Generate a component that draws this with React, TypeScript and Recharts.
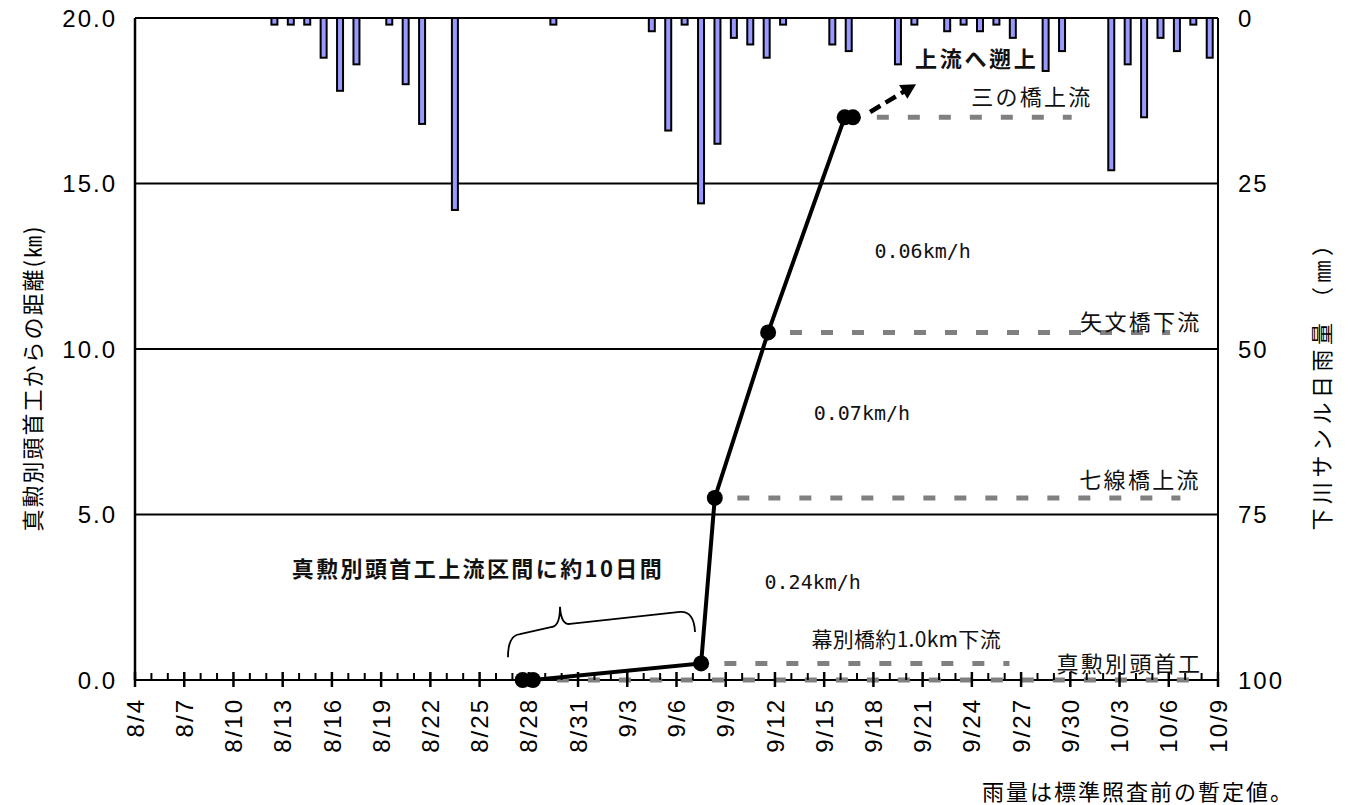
import { ComposedChart, Bar, Line, XAxis, YAxis, CartesianGrid, ReferenceDot, ReferenceArea } from 'recharts'

// x tick labels (every 3 days)
const dateLabels = [
  '8/4', '8/7', '8/10', '8/13', '8/16', '8/19', '8/22', '8/25', '8/28', '8/31',
  '9/3', '9/6', '9/9', '9/12', '9/15', '9/18', '9/21', '9/24', '9/27', '9/30',
  '10/3', '10/6', '10/9',
]

// 下川サンル 日雨量 (mm)
const rainDates = [
  '8/12', '8/13', '8/14', '8/15', '8/16', '8/17', '8/19', '8/20', '8/21', '8/23',
  '8/29', '9/4', '9/5', '9/6', '9/7', '9/8', '9/9', '9/10', '9/11', '9/12',
  '9/15', '9/16', '9/19', '9/20', '9/22', '9/23', '9/24', '9/25', '9/26', '9/28',
  '9/29', '10/2', '10/3', '10/4', '10/5', '10/6', '10/7', '10/8',
]
const rainMm = [
  1, 1, 1, 6, 11, 7, 1, 10, 16, 29,
  1, 2, 17, 1, 28, 19, 3, 4, 6, 1,
  4, 5, 7, 1, 2, 1, 2, 1, 3, 8,
  5, 23, 7, 15, 3, 5, 1, 6,
]

// fish track: time and distance from 真勲別頭首工 (km)
const trackTimes = ['8/27 15:00', '8/28 06:00', '9/7 12:00', '9/8 08:00', '9/11 14:00', '9/16 06:00', '9/16 18:00']
const trackKm = [0, 0, 0.5, 5.5, 10.5, 17, 17]

// stations (gray dashed lines)
const stationNames = ['真勲別頭首工', '幕別橋約1.0km下流', '七線橋上流', '矢文橋下流', '三の橋上流']
const stationKm = [0, 0.5, 5.5, 10.5, 17]
const stationFrom = ['8/29 17:00', '9/8 22:00', '9/9 17:00', '9/12 22:00', '9/18 05:00']
const stationTo = ['10/7 07:00', '9/26 07:00', '10/6 17:00', '10/6 02:00', '9/30 02:00']

const speedLabels = ['0.24km/h', '0.07km/h', '0.06km/h']

const kmTicks = [0, 5, 10, 15, 20]
const mmTicks = [0, 25, 50, 75, 100]

const toDay = (s: string) => {
  const [md, hm] = s.split(' ')
  const [m, d] = md.split('/').map(Number)
  const base = m === 8 ? d - 4 : m === 9 ? 27 + d : 57 + d
  if (!hm) return base
  const [h, mi] = hm.split(':').map(Number)
  return base + (h + mi / 60) / 24
}

const rainRows = rainDates.map((d, i) => ({ x: toDay(d) + 0.5, mm: rainMm[i] }))
const trackRows = trackTimes.map((t, i) => ({ x: toDay(t), km: trackKm[i] }))
const stationRows = stationNames.map((_, i) => [
  { x: toDay(stationFrom[i]), km: stationKm[i] },
  { x: toDay(stationTo[i]), km: stationKm[i] },
])
const dayTicks = Array.from({ length: toDay('10/9') + 1 }, (_, i) => i)
const majorTicks = new Map(dateLabels.map((l) => [toDay(l), l]))

const JP = '"Noto Sans CJK JP", sans-serif'
const NUM = '"Liberation Sans", Arial, sans-serif'
const MONO = '"DejaVu Sans Mono", monospace'

// annotation positions (day index, km)
const stationLabelAt = [[60.6, 0.54], [47.0, 1.27], [61.25, 6.1], [61.3, 10.88], [54.66, 17.67]]
const speedLabelAt = [[41.3, 2.96], [44.3, 8.07], [48.0, 12.96]]

const XTick = (props: any) => {
  const { x, y, payload } = props
  const label = majorTicks.get(payload.value)
  if (label === undefined) {
    return <line x1={x} x2={x} y1={y - 7} y2={y} stroke="#000" strokeWidth={2} />
  }
  const ty = y + 18
  return (
    <g>
      <line x1={x} x2={x} y1={y - 8} y2={y + 7} stroke="#000" strokeWidth={2.5} />
      <text
        x={x}
        y={ty}
        transform={`rotate(-90 ${x} ${ty})`}
        textAnchor="end"
        dy="0.36em"
        fontSize={24}
        letterSpacing={2}
        fontFamily={NUM}
        fill="#000"
      >
        {label}
      </text>
    </g>
  )
}

const RainBar = (p: any) => {
  const cx = p.x + p.width / 2
  const top = Math.min(p.y, p.y + p.height)
  const h = Math.abs(p.height)
  return <rect x={cx - 3} y={top} width={6} height={h} fill="#9999ff" stroke="#000" strokeWidth={2} />
}

const textShape = (value: string, opts: { size?: number; bold?: boolean; font?: string; spacing?: number }) => (p: any) => (
  <text
    x={p.cx}
    y={p.cy}
    textAnchor="middle"
    dominantBaseline="central"
    fontSize={opts.size ?? 22}
    fontWeight={opts.bold ? 700 : 400}
    fontFamily={opts.font ?? JP}
    letterSpacing={opts.spacing ?? 2.3}
    fill="#111"
  >
    {value}
  </text>
)

const Brace = (p: any) => {
  const { x, y, width, height } = p
  const sx = width / 187
  const sy = height / 52
  const pt = (a: number, b: number) => `${x + a * sx},${y + b * sy}`
  const d = `M${pt(0, 52)} Q${pt(0, 30)} ${pt(12, 29)} L${pt(44, 22)} Q${pt(52, 21)} ${pt(52, 2)} Q${pt(53, 20)} ${pt(62, 19)} L${pt(172, 7)} Q${pt(186, 6)} ${pt(187, 27)}`
  return <path d={d} fill="none" stroke="#000" strokeWidth={1.8} />
}

const Arrow = (p: any) => {
  const { x, y, width, height } = p
  const x0 = x
  const y0 = y + height
  const x1 = x + width
  const y1 = y
  const len = Math.hypot(x1 - x0, y1 - y0)
  const ux = (x1 - x0) / len
  const uy = (y1 - y0) / len
  const hx = x1 - ux * 15
  const hy = y1 - uy * 15
  return (
    <g>
      <line x1={x0} y1={y0} x2={hx + ux * 2} y2={hy + uy * 2} stroke="#000" strokeWidth={4.5} strokeDasharray="12 6" />
      <polygon points={`${x1},${y1} ${hx - uy * 8},${hy + ux * 8} ${hx + uy * 8},${hy - ux * 8}`} fill="#000" />
    </g>
  )
}

export default function App() {
  return (
    <div style={{ position: 'fixed', left: 0, top: 0, width: 1349, height: 805, background: '#fff' }}>
      <ComposedChart width={1349} height={805} data={rainRows} barSize={6} margin={{ top: 18, right: 0, bottom: 0, left: 0 }}>
        <CartesianGrid yAxisId="km" vertical={false} stroke="#000" strokeWidth={2.2} />
        <XAxis
          type="number"
          dataKey="x"
          domain={[0, 66]}
          ticks={dayTicks}
          interval={0}
          allowDataOverflow
          height={125}
          tickSize={0}
          tickMargin={0}
          tickLine={false}
          tick={<XTick />}
          axisLine={false}
        />
        <YAxis
          yAxisId="km"
          domain={[0, 20]}
          ticks={kmTicks}
          width={135}
          tickFormatter={(v: number) => v.toFixed(1)}
          tickLine={false}
          tickSize={0}
          tickMargin={18}
          axisLine={{ stroke: '#000', strokeWidth: 2.5 }}
          tick={{ fill: '#000', fontSize: 24, fontFamily: NUM, letterSpacing: 2 }}
        />
        <YAxis
          yAxisId="mm"
          orientation="right"
          reversed
          domain={[0, 100]}
          ticks={mmTicks}
          width={131}
          tickLine={false}
          tickSize={0}
          tickMargin={20}
          axisLine={{ stroke: '#000', strokeWidth: 2 }}
          tick={{ fill: '#000', fontSize: 24, fontFamily: NUM, letterSpacing: 2 }}
        />
        <Bar yAxisId="mm" dataKey="mm" shape={RainBar} isAnimationActive={false} />
        {stationRows.map((rows, i) => (
          <Line
            key={stationNames[i]}
            yAxisId="km"
            data={rows}
            dataKey="km"
            type="linear"
            stroke="#808080"
            strokeWidth={5}
            strokeDasharray="12 19"
            dot={false}
            activeDot={false}
            isAnimationActive={false}
          />
        ))}
        <Line
          yAxisId="km"
          data={trackRows}
          dataKey="km"
          type="linear"
          stroke="#000"
          strokeWidth={4}
          dot={{ r: 8, fill: '#000', stroke: '#000', strokeWidth: 0 }}
          isAnimationActive={false}
        />
        {stationNames.map((name, i) => (
          <ReferenceDot
            key={'l' + name}
            yAxisId="km"
            x={stationLabelAt[i][0]}
            y={stationLabelAt[i][1]}
            r={1}
            shape={textShape(name, i === 1 ? { size: 21, spacing: 0.3 } : {})}
          />
        ))}
        {speedLabels.map((s, i) => (
          <ReferenceDot
            key={s}
            yAxisId="km"
            x={speedLabelAt[i][0]}
            y={speedLabelAt[i][1]}
            r={1}
            shape={textShape(s, { size: 20, font: MONO, spacing: 0 })}
          />
        ))}
        <ReferenceDot yAxisId="km" x={51.3} y={18.82} r={1} shape={textShape('上流へ遡上', { bold: true, spacing: 2.7 })} />
        <ReferenceDot yAxisId="km" x={20.9} y={3.4} r={1} shape={textShape('真勲別頭首工上流区間に約10日間', { bold: true, spacing: 2.4 })} />
        <ReferenceArea yAxisId="km" x1={22.73} x2={34.13} y1={0.69} y2={2.27} shape={Brace} />
        <ReferenceArea yAxisId="km" x1={44.8} x2={47.6} y1={17.16} y2={18.0} shape={Arrow} />
      </ComposedChart>
      <svg width={1349} height={805} style={{ position: 'absolute', left: 0, top: 0, pointerEvents: 'none' }}>
        <text x={31} y={378} transform="rotate(-90 31 378)" textAnchor="middle" dominantBaseline="central" fontSize={22} letterSpacing={2} fontFamily={JP} fill="#000">
          真勲別頭首工からの距離(㎞)
        </text>
        <text x={1320} y={380} transform="rotate(-90 1320 380)" textAnchor="middle" dominantBaseline="central" fontSize={22} letterSpacing={4.5} fontFamily={JP} fill="#000">
          下川サンル日雨量 （㎜）
        </text>
        <text x={982} y={790} dominantBaseline="central" fontSize={22} letterSpacing={2} fontFamily={JP} fill="#000">
          雨量は標準照査前の暫定値。
        </text>
      </svg>
    </div>
  )
}
